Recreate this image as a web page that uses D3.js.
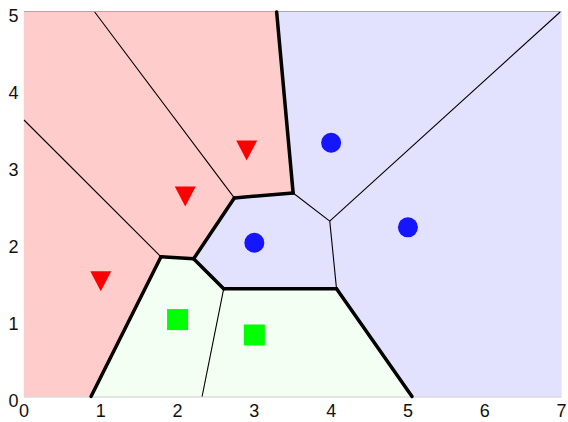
<!DOCTYPE html>
<html>
<head>
<meta charset="utf-8">
<script src="https://cdn.jsdelivr.net/npm/d3@7"></script>
<style>
  html, body { margin: 0; padding: 0; background: #fff; }
  svg { display: block; font-family: "Liberation Sans", Arial, sans-serif; }
</style>
</head>
<body>
<svg id="chart" width="568" height="422"></svg>
<script>
// Sites and their classes
const xs      = [1.0, 2.1, 2.9, 3.0, 4.0, 5.0, 2.0, 3.0];
const ys      = [1.5, 2.6, 3.2, 2.0, 3.3, 2.2, 1.0, 0.8];
const classes = ["red", "red", "red", "blue", "blue", "blue", "green", "green"];
const xTicks  = [0, 1, 2, 3, 4, 5, 6, 7];
const yTicks  = [0, 1, 2, 3, 4, 5];

const cellFill   = { red: "#ffcccc", blue: "#e2e2ff", green: "#f2fff2" };
const markerFill = { red: "#ff0000", blue: "#1515ff", green: "#00ff00" };

const svg = d3.select("#chart");
const x = d3.scaleLinear().domain([0, 7]).range([24, 561.5]);
const y = d3.scaleLinear().domain([0, 5]).range([396.5, 12]);

const pts = xs.map((v, i) => [x(v), y(ys[i])]);
const delaunay = d3.Delaunay.from(pts);
const voronoi = delaunay.voronoi([x(0), y(5), x(7), y(0)]);

// Cell fills
svg.append("g").selectAll("path")
  .data(pts)
  .join("path")
  .attr("d", (d, i) => voronoi.renderCell(i))
  .attr("fill", (d, i) => cellFill[classes[i]])
  .attr("stroke", (d, i) => cellFill[classes[i]])
  .attr("stroke-width", 0.5);

// Frame lines (top and bottom)
svg.append("line").attr("x1", x(0)).attr("x2", x(7)).attr("y1", y(5) - 0.5).attr("y2", y(5) - 0.5)
  .attr("stroke", "#aaa").attr("stroke-width", 1);
svg.append("line").attr("x1", x(0)).attr("x2", x(7)).attr("y1", y(0) + 0.5).attr("y2", y(0) + 0.5)
  .attr("stroke", "#ccc").attr("stroke-width", 1);

// Cell edges: thin between same-class cells, thick at class boundaries
const edges = [];
const eps = 0.5;
const onFrame = (p, q) =>
  (Math.abs(p[0] - x(0)) < eps && Math.abs(q[0] - x(0)) < eps) ||
  (Math.abs(p[0] - x(7)) < eps && Math.abs(q[0] - x(7)) < eps) ||
  (Math.abs(p[1] - y(0)) < eps && Math.abs(q[1] - y(0)) < eps) ||
  (Math.abs(p[1] - y(5)) < eps && Math.abs(q[1] - y(5)) < eps);
pts.forEach((site, i) => {
  const poly = voronoi.cellPolygon(i);
  for (let k = 0; k < poly.length - 1; k++) {
    const a = poly[k], b = poly[k + 1];
    if (onFrame(a, b)) continue;
    if (Math.hypot(a[0] - b[0], a[1] - b[1]) < 0.1) continue;
    const m = [(a[0] + b[0]) / 2, (a[1] + b[1]) / 2];
    let best = -1, bd = Infinity;
    pts.forEach((p, j) => {
      if (j === i) return;
      const d = Math.hypot(p[0] - m[0], p[1] - m[1]);
      if (d < bd) { bd = d; best = j; }
    });
    if (i < best) edges.push({ a, b, thick: classes[i] !== classes[best] });
  }
});

svg.append("g").selectAll("line")
  .data(edges.sort((p, q) => p.thick - q.thick))
  .join("line")
  .attr("x1", d => d.a[0]).attr("y1", d => d.a[1])
  .attr("x2", d => d.b[0]).attr("y2", d => d.b[1])
  .attr("stroke", "#000")
  .attr("stroke-width", d => d.thick ? 3.5 : 1.1)
  .attr("stroke-linecap", d => d.thick ? "round" : "butt");

// Markers
const g = svg.append("g");
const s = 10.5;
pts.forEach((p, i) => {
  const c = classes[i];
  if (c === "red") {
    g.append("path")
      .attr("d", `M${p[0] - s},${p[1] - s * 0.95}L${p[0] + s},${p[1] - s * 0.95}L${p[0]},${p[1] + s * 0.95}Z`)
      .attr("fill", markerFill[c]);
  } else if (c === "blue") {
    g.append("circle").attr("cx", p[0]).attr("cy", p[1]).attr("r", 10)
      .attr("fill", markerFill[c]);
  } else {
    g.append("rect").attr("x", p[0] - 10.5).attr("y", p[1] - 10.5)
      .attr("width", 21).attr("height", 21)
      .attr("fill", markerFill[c]);
  }
});

// Tick labels
svg.append("g").selectAll("text")
  .data(xTicks)
  .join("text")
  .attr("x", d => x(d))
  .attr("y", 417)
  .attr("text-anchor", "middle")
  .attr("font-size", 18)
  .attr("fill", "#111")
  .text(d => d);

svg.append("g").selectAll("text")
  .data(yTicks)
  .join("text")
  .attr("x", 13.5)
  .attr("y", d => y(d) + 10)
  .attr("text-anchor", "middle")
  .attr("font-size", 18)
  .attr("fill", "#111")
  .text(d => d);
</script>
</body>
</html>
